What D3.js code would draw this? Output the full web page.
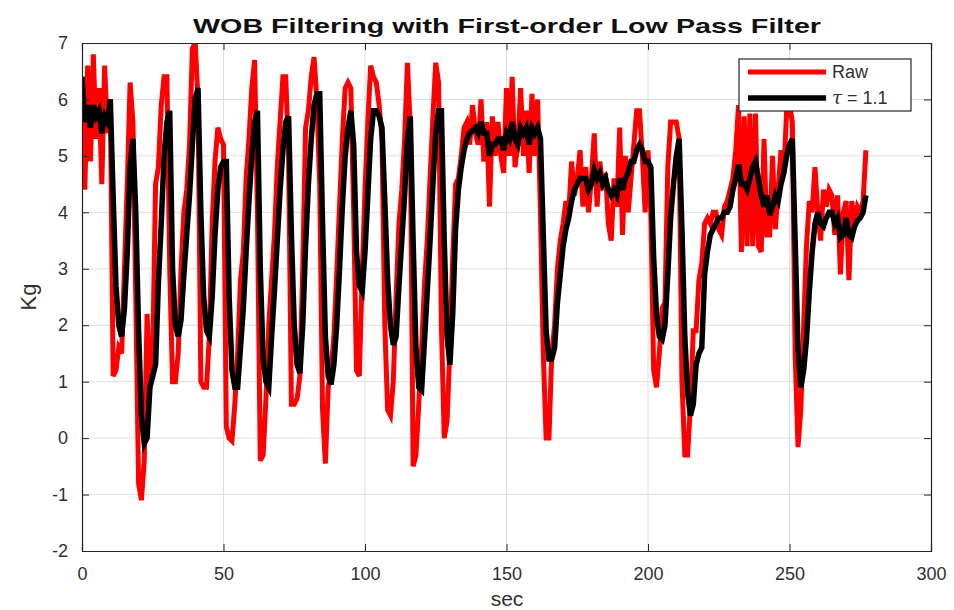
<!DOCTYPE html>
<html><head><meta charset="utf-8">
<script src="https://cdn.jsdelivr.net/npm/d3@7"></script>
<style>body{margin:0;background:#fff}svg{display:block}</style>
</head><body>
<svg id="chart" width="954" height="610"></svg>
<script>
// time in seconds (1 s sampling)
const rawValues = [
6.4,4.4,6.6,4.9,6.8,5.3,6.2,4.5,6.6,5.4,6.0,1.1,1.2,1.6,1.5,3.0,4.5,6.3,5.6,2.5,
-0.8,-1.1,-0.4,2.2,0.9,1.5,4.5,4.8,5.9,6.4,6.4,3.0,1.0,1.0,1.5,3.0,4.0,4.4,5.2,6.9,
7.0,6.0,1.0,0.9,0.9,1.8,3.8,4.9,5.5,5.3,5.2,0.2,0.0,-0.05,0.6,1.5,2.8,3.3,4.6,5.3,
6.2,6.7,4.0,-0.4,-0.3,0.7,2.0,2.8,3.6,4.8,5.6,6.4,6.4,5.0,0.6,0.6,0.7,1.1,3.0,5.5,
5.8,6.4,6.75,6.0,4.5,0.5,-0.45,0.9,1.2,1.8,2.9,4.1,5.3,6.2,6.3,6.2,4.0,1.2,1.1,2.9,
4.4,5.6,6.6,6.4,6.3,5.9,5.3,2.0,0.5,0.4,1.0,2.5,3.8,4.4,5.3,6.65,5.5,-0.5,-0.3,0.6,
1.6,2.7,3.5,4.6,5.7,6.65,6.3,2.0,0.0,0.3,1.6,3.2,4.5,4.6,5.0,5.5,5.6,5.2,5.9,5.4,
5.2,6.0,4.9,5.6,4.1,5.7,5.0,5.6,5.0,4.7,6.2,5.0,6.4,4.8,5.2,6.2,5.0,5.8,4.7,6.1,
5.0,6.0,4.0,1.5,0.0,0.0,1.5,2.0,3.0,3.5,3.8,4.2,4.0,4.9,4.3,4.6,5.1,4.1,4.8,4.0,
4.6,5.4,4.1,4.9,4.4,4.7,3.8,3.5,4.6,4.1,5.5,3.6,5.0,4.0,4.6,5.2,5.8,5.8,5.0,4.0,
5.1,4.0,1.2,0.9,1.5,2.3,2.4,4.8,5.6,5.6,5.6,5.3,1.0,-0.3,-0.3,0.6,1.9,1.9,2.8,3.1,
3.8,3.9,3.8,4.0,4.0,3.7,3.6,4.1,4.2,4.4,4.6,5.1,5.9,3.3,5.7,3.4,5.75,3.4,5.75,3.4,
3.3,5.3,3.6,3.6,5.0,3.7,4.4,5.1,4.7,5.8,5.9,5.6,1.5,-0.16,0.5,2.0,3.4,4.2,4.0,4.8,
4.0,3.5,4.4,4.1,4.4,4.3,3.6,4.3,2.9,4.0,4.2,2.8,4.2,3.8,4.1,4.0,4.2,5.1
];
const filteredValues = [
6.4,5.6,5.9,5.5,5.9,5.7,5.8,5.4,5.7,5.6,6.0,4.3,2.7,2.0,1.8,2.3,3.3,4.8,5.3,4.0,
1.9,0.4,-0.1,0.0,0.9,1.1,1.3,2.75,3.8,5.0,5.6,5.8,3.0,2.0,1.8,2.1,2.9,3.6,4.3,5.2,
6.0,6.2,4.0,2.5,1.9,1.8,2.5,3.6,4.4,4.8,4.9,4.9,2.5,1.2,0.9,0.9,1.6,2.3,3.3,4.2,
5.0,5.6,5.8,3.0,1.4,1.0,0.9,1.8,2.6,3.5,4.4,5.1,5.6,5.7,3.6,2.0,1.3,1.15,2.0,3.4,
4.5,5.3,5.9,6.1,6.1,3.8,1.8,1.1,0.95,1.3,2.0,3.0,4.1,5.0,5.5,5.8,5.2,3.3,2.7,2.6,
3.3,4.3,5.3,5.8,5.8,5.7,5.5,4.2,2.8,2.0,1.65,1.8,2.7,3.5,4.3,5.3,5.7,3.5,1.6,0.9,
0.85,1.7,2.6,3.5,4.5,5.4,5.8,5.8,3.5,1.8,1.3,2.2,3.7,4.4,4.8,5.1,5.3,5.4,5.45,5.5,
5.4,5.6,5.4,5.4,5.0,5.2,5.2,5.3,5.3,5.1,5.4,5.3,5.6,5.3,5.2,5.5,5.4,5.5,5.2,5.5,
5.4,5.5,5.3,3.6,1.9,1.4,1.4,1.6,2.4,2.9,3.4,3.7,3.9,4.2,4.4,4.5,4.6,4.6,4.6,4.4,
4.5,4.75,4.6,4.7,4.5,4.6,4.4,4.3,4.4,4.3,4.6,4.4,4.6,4.7,4.9,4.9,5.1,5.2,5.1,4.9,
4.9,4.8,3.2,2.2,1.8,1.75,2.0,2.9,3.9,4.5,5.0,5.3,3.7,1.8,0.8,0.4,0.6,1.3,1.5,1.6,
2.9,3.3,3.6,3.7,3.8,3.9,3.9,4.0,4.0,4.1,4.4,4.6,4.85,4.5,4.5,4.4,4.6,4.8,4.9,4.6,
4.3,4.1,4.3,3.95,4.1,4.3,4.2,4.5,4.7,5.0,5.2,5.3,3.5,1.6,0.9,1.2,1.75,2.6,3.3,3.8,
4.0,3.8,3.75,3.9,4.0,4.0,3.8,3.9,3.55,3.6,3.9,3.6,3.55,3.75,3.85,3.9,4.0,4.3
];
const xTicks = [0,50,100,150,200,250,300];
const yTicks = [-2,-1,0,1,2,3,4,5,6,7];
const seriesNames = ["Raw", "\u03C4 = 1.1"];
const titleText = "WOB Filtering with First-order Low Pass Filter";

const svg = d3.select("#chart");
const L = 82, R = 931, T = 43, B = 551;
const x = d3.scaleLinear().domain([0,300]).range([L,R]);
const y = d3.scaleLinear().domain([-2,7]).range([B,T]);
const axisCol = "#262626";
const font = "Liberation Sans, Arial, sans-serif";

// grid
svg.append("g").selectAll("line").data(xTicks.slice(1,-1)).join("line")
  .attr("x1",d=>x(d)).attr("x2",d=>x(d)).attr("y1",T).attr("y2",B)
  .attr("stroke","#dedede").attr("stroke-width",1);
svg.append("g").selectAll("line").data(yTicks.slice(1,-1)).join("line")
  .attr("y1",d=>y(d)).attr("y2",d=>y(d)).attr("x1",L).attr("x2",R)
  .attr("stroke","#dedede").attr("stroke-width",1);

// lines
const line = d3.line().x((d,i)=>x(i)).y(d=>y(d));
svg.append("clipPath").attr("id","clip").append("rect")
  .attr("x",L).attr("y",T).attr("width",R-L).attr("height",B-T);
svg.append("path").datum(rawValues).attr("d",line).attr("fill","none")
  .attr("stroke","#ff0000").attr("stroke-width",5).attr("stroke-linejoin","miter")
  .attr("clip-path","url(#clip)");
svg.append("path").datum(filteredValues).attr("d",line).attr("fill","none")
  .attr("stroke","#000").attr("stroke-width",5.5).attr("stroke-linejoin","miter")
  .attr("clip-path","url(#clip)");

// axes
const fmt = d => String(d);
const ax = svg.append("g").attr("transform",`translate(0,${B})`)
  .call(d3.axisBottom(x).tickValues(xTicks).tickSize(-7).tickPadding(15).tickFormat(fmt));
const axT = svg.append("g").attr("transform",`translate(0,${T})`)
  .call(d3.axisTop(x).tickValues(xTicks).tickSize(-7).tickFormat(""));
const ay = svg.append("g").attr("transform",`translate(${L},0)`)
  .call(d3.axisLeft(y).tickValues(yTicks).tickSize(-7).tickPadding(14).tickFormat(fmt));
const ayR = svg.append("g").attr("transform",`translate(${R},0)`)
  .call(d3.axisRight(y).tickValues(yTicks).tickSize(-7).tickFormat(""));
[ax,axT,ay,ayR].forEach(g=>{
  g.select(".domain").attr("stroke",axisCol).attr("stroke-width",1.2);
  g.selectAll(".tick line").attr("stroke",axisCol);
  g.selectAll("text").attr("fill","#303030").attr("font-family",font).attr("font-size",18);
});
ax.selectAll("text").attr("dy","0.75em");

// title & labels
svg.append("text").attr("x",507).attr("y",33).attr("text-anchor","middle")
  .attr("font-family",font).attr("font-weight","bold").attr("font-size",21)
  .attr("textLength",628).attr("lengthAdjust","spacingAndGlyphs")
  .attr("fill","#111").text(titleText);
svg.append("text").attr("x",507).attr("y",606).attr("text-anchor","middle")
  .attr("font-family",font).attr("font-size",21).attr("fill","#303030").text("sec");
svg.append("text").attr("transform","translate(36,297) rotate(-90)").attr("text-anchor","middle")
  .attr("font-family",font).attr("font-size",22).attr("fill","#303030").text("Kg");

// legend
const lg = svg.append("g");
lg.append("rect").attr("x",739).attr("y",59).attr("width",172).attr("height",52)
  .attr("fill","#fff").attr("stroke",axisCol).attr("stroke-width",1.2);
const items = [{c:"#ff0000",w:5,yy:72},{c:"#000",w:5.5,yy:98}];
items.forEach(it=>{
  lg.append("line").attr("x1",748).attr("x2",826).attr("y1",it.yy).attr("y2",it.yy)
    .attr("stroke",it.c).attr("stroke-width",it.w);
});
lg.append("text").attr("x",832).attr("y",72).attr("dy","0.35em")
  .attr("font-family",font).attr("font-size",18).attr("fill","#303030").text(seriesNames[0]);
const t2 = lg.append("text").attr("x",832).attr("y",98).attr("dy","0.35em")
  .attr("font-family",font).attr("font-size",18).attr("fill","#303030");
t2.append("tspan").attr("font-style","italic").attr("font-family","DejaVu Serif, serif").text("\u03C4");
t2.append("tspan").text(" =  1.1");
</script>
</body></html>
